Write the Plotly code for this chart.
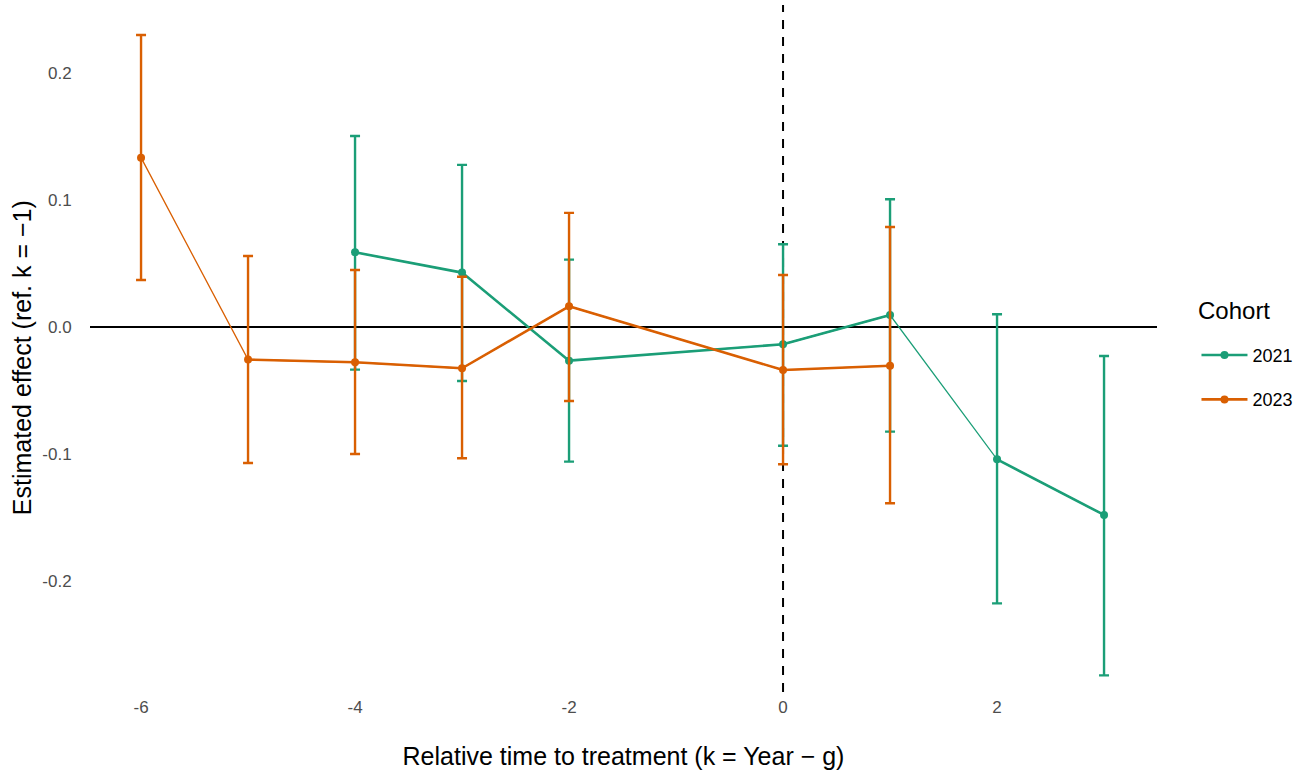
import plotly.graph_objects as go

# ---- data ----
k_2021 = [-4, -3, -2, 0, 1, 2, 3]
est_2021 = [0.0588, 0.0428, -0.0265, -0.0136, 0.0094, -0.1042, -0.1480]
hi_2021 = [0.1504, 0.1276, 0.0530, 0.0651, 0.1006, 0.0100, -0.0228]
lo_2021 = [-0.0336, -0.0425, -0.1060, -0.0935, -0.0824, -0.2176, -0.2743]
thick_2021 = [True, True, True, True, False, True]  # segment i -> i+1

k_2023 = [-6, -5, -4, -3, -2, 0, 1]
est_2023 = [0.1333, -0.0257, -0.0278, -0.0325, 0.0163, -0.0339, -0.0305]
hi_2023 = [0.2299, 0.0559, 0.0449, 0.0396, 0.0898, 0.0409, 0.0787]
lo_2023 = [0.0370, -0.1071, -0.1000, -0.1034, -0.0583, -0.1081, -0.1388]
thick_2023 = [False, True, True, True, True, True]

cohorts = ["2021", "2023"]
colors = {"2021": "#1B9E77", "2023": "#D95F02"}
x_ticks = [-6, -4, -2, 0, 2]
y_ticks = [-0.2, -0.1, 0.0, 0.1, 0.2]

series = {
    "2021": (k_2021, est_2021, hi_2021, lo_2021, thick_2021),
    "2023": (k_2023, est_2023, hi_2023, lo_2023, thick_2023),
}

FONT = "Liberation Sans, Arial, sans-serif"
fig = go.Figure()

for name in cohorts:
    k, est, hi, lo, thick = series[name]
    c = colors[name]
    # thin connecting line across all points
    fig.add_trace(go.Scatter(x=k, y=est, mode="lines", line=dict(color=c, width=1.3),
                             showlegend=False, hoverinfo="skip", legendgroup=name))
    # error bars + markers
    fig.add_trace(go.Scatter(
        x=k, y=est, mode="markers",
        marker=dict(color=c, size=8),
        error_y=dict(type="data", symmetric=False,
                     array=[h - e for h, e in zip(hi, est)],
                     arrayminus=[e - l for e, l in zip(est, lo)],
                     color=c, thickness=2.4, width=5),
        showlegend=False, legendgroup=name))
    # thick segments
    xs, ys = [], []
    for i, t in enumerate(thick):
        if t:
            xs += [k[i], k[i + 1], None]
            ys += [est[i], est[i + 1], None]
    fig.add_trace(go.Scatter(x=xs, y=ys, mode="lines", line=dict(color=c, width=2.6),
                             showlegend=False, hoverinfo="skip", legendgroup=name))
    # legend entry
    fig.add_trace(go.Scatter(x=[None], y=[None], mode="lines+markers", name=name,
                             line=dict(color=c, width=2.6), marker=dict(color=c, size=8),
                             legendgroup=name))

fig.add_hline(y=0, line=dict(color="black", width=2), layer="below")
fig.add_vline(x=0, line=dict(color="black", width=2, dash="9px,8px"), layer="below")

fig.add_annotation(text="Cohort", xref="paper", yref="paper", x=1.0365, y=0.556,
                   xanchor="left", yanchor="middle", showarrow=False,
                   font=dict(size=24, color="black", family=FONT))
fig.add_annotation(text="Estimated effect (ref. k = \u22121)", xref="paper", yref="paper",
                   x=-0.0637, y=0.486, xanchor="center", yanchor="middle",
                   textangle=-90, showarrow=False,
                   font=dict(size=25, color="black", family=FONT))

fig.update_layout(
    width=1309, height=771,
    margin=dict(l=90, r=152, t=5, b=79),
    paper_bgcolor="white", plot_bgcolor="white",
    font=dict(family=FONT, color="black"),
    xaxis=dict(range=[-6.477, 3.495], tickvals=x_ticks, ticktext=[str(v) for v in x_ticks],
               showgrid=False, zeroline=False, showline=False,
               ticks="outside", ticklen=0, tickcolor="rgba(0,0,0,0)",
               tickfont=dict(size=17, color="#4D4D4D", family=FONT),
               title=dict(text="Relative time to treatment (k = Year \u2212 g)",
                          font=dict(size=25, color="black", family=FONT), standoff=31)),
    yaxis=dict(range=[-0.2874, 0.2535], tickvals=y_ticks,
               ticktext=["-0.2", "-0.1", "0.0", "0.1", "0.2"],
               showgrid=False, zeroline=False, showline=False,
               ticks="outside", ticklen=14, tickcolor="rgba(0,0,0,0)",
               tickfont=dict(size=17, color="#4D4D4D", family=FONT)),
    legend=dict(x=1.037, y=0.517, xanchor="left", yanchor="top",
                font=dict(size=18, color="black", family=FONT),
                itemwidth=46, tracegroupgap=18, bgcolor="rgba(0,0,0,0)"),
    showlegend=True,
)

fig.write_html("out.html", config={"displayModeBar": False},
               post_script="document.body.style.margin='0';"
               "document.body.style.overflow='hidden';")
